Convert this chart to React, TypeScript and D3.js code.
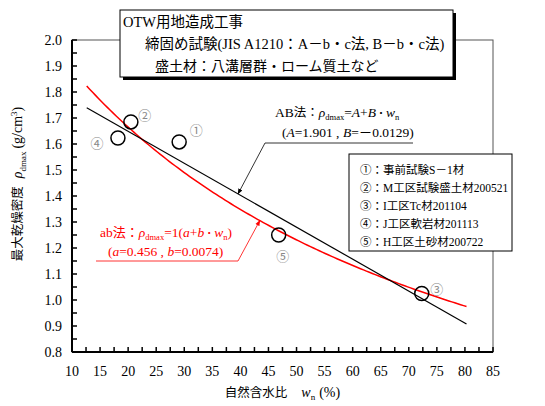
import React from "react";
import * as d3 from "d3";

const pointIds = ["①", "②", "③", "④", "⑤"];
const pointW = [28.2, 20.0, 69.4, 17.8, 45.1];
const pointRho = [1.608, 1.685, 1.025, 1.623, 1.25];
const legendLabels = [
  "①：事前試験S－1材",
  "②：M工区試験盛土材200521",
  "③：I工区Tc材201104",
  "④：J工区軟岩材201113",
  "⑤：H工区土砂材200722",
];
const xTicks = [10, 15, 20, 25, 30, 35, 40, 45, 50, 55, 60, 65, 70, 75, 80, 85];
const yTicks = [0.8, 0.9, 1.0, 1.1, 1.2, 1.3, 1.4, 1.5, 1.6, 1.7, 1.8, 1.9, 2.0];
const A = 1.901, B = -0.0129;
const a = 0.456, b = 0.0074;
const wRange = [12.5, 77];
// the data layer of the reference spans a slightly narrower w-extent than the printed axis
const dataDomain = [10, 81.5];

const W = 545, H = 406;
const L = 72, R = 493, T = 40, BOT = 352;
const serif = "'Liberation Serif', 'Times New Roman', 'Noto Sans CJK JP', serif";
const cjk = "'Noto Sans CJK JP'";

export default function App() {
  const xAxis = d3.scaleLinear().domain([10, 85]).range([L, R]);
  const x = d3.scaleLinear().domain(dataDomain).range([L, R]);
  const y = d3.scaleLinear().domain([0.8, 2.0]).range([BOT, T]);
  const ws = d3.range(wRange[0], wRange[1] + 0.01, 0.5);
  const line = d3.line<number[]>().x((d) => x(d[0])).y((d) => y(d[1]));
  const abPath = line(ws.map((w) => [w, 1 / (a + b * w)]))!;
  const ABPath = line([wRange[0], wRange[1]].map((w) => [w, A + B * w]))!;
  const xMinor = d3.range(10, 85.01, 2.5);
  const yMinor = d3.range(0.8, 2.001, 0.05);
  const labelOffsets = [
    [17, -7],
    [14, -2],
    [15, 0],
    [-21, 10],
    [4, 26],
  ];
  const wK = 38.2, wR = 41.9;
  return (
    <svg width={W} height={H} style={{ position: "absolute", left: 0, top: 0 }}>
      <defs>
        <marker id="arrK" viewBox="0 0 10 10" refX="9" refY="5" markerWidth="7" markerHeight="7" orient="auto">
          <path d="M0,1 L10,5 L0,9 Z" fill="#000" />
        </marker>
        <marker id="arrR" viewBox="0 0 10 10" refX="9" refY="5" markerWidth="7" markerHeight="7" orient="auto">
          <path d="M0,1 L10,5 L0,9 Z" fill="#ff0000" />
        </marker>
      </defs>
      <rect x={0} y={0} width={W} height={H} fill="#fff" />
      {/* frame */}
      <rect x={L} y={T} width={R - L} height={BOT - T} fill="none" stroke="#555" strokeWidth={1} />
      <line x1={L} y1={T} x2={L} y2={BOT} stroke="#000" strokeWidth={2} />
      <line x1={L} y1={BOT} x2={R} y2={BOT} stroke="#000" strokeWidth={2} />
      {xMinor.map((v, i) => (
        <line key={"xt" + i} x1={xAxis(v)} x2={xAxis(v)} y1={BOT} y2={BOT - 5} stroke="#000" strokeWidth={1.5} />
      ))}
      {yMinor.map((v, i) => (
        <line key={"yt" + i} x1={L} x2={L + 5} y1={y(v)} y2={y(v)} stroke="#000" strokeWidth={1.5} />
      ))}
      {xTicks.map((v) => (
        <text key={"xl" + v} x={xAxis(v)} y={BOT + 24} textAnchor="middle" fontFamily={serif} fontSize={14}>
          {v}
        </text>
      ))}
      {yTicks.map((v) => (
        <text key={"yl" + v} x={L - 10} y={y(v) + 5} textAnchor="end" fontFamily={serif} fontSize={14}>
          {v.toFixed(1)}
        </text>
      ))}
      {/* axis titles */}
      <text x={xAxis(47.5)} y={397} textAnchor="middle" fontFamily={serif} fontSize={14}>
        <tspan fontFamily={cjk} fontSize={12.5}>自然含水比</tspan>
        <tspan dx={14} fontStyle="italic">w</tspan>
        <tspan fontSize={9} dy={3}>n</tspan>
        <tspan dy={-3} dx={4}>(%)</tspan>
      </text>
      <text transform={`translate(22, ${(T + BOT) / 2 - 12}) rotate(-90)`} textAnchor="middle" fontFamily={serif} fontSize={14}>
        <tspan fontFamily={cjk} fontSize={12.5}>最大乾燥密度</tspan>
        <tspan dx={8} fontStyle="italic">ρ</tspan>
        <tspan fontSize={9} dy={4}>dmax</tspan>
        <tspan dy={-4} dx={3}>(g/cm</tspan>
        <tspan fontSize={9} dy={-5}>3</tspan>
        <tspan dy={5}>)</tspan>
      </text>
      {/* curves */}
      <path d={abPath} fill="none" stroke="#ff0000" strokeWidth={1.5} />
      <path d={ABPath} fill="none" stroke="#000" strokeWidth={1.2} />
      {/* points */}
      {pointW.map((w, i) => (
        <g key={"p" + i}>
          <circle cx={x(w)} cy={y(pointRho[i])} r={7} fill="none" stroke="#000" strokeWidth={1.5} />
          <text x={x(w) + labelOffsets[i][0]} y={y(pointRho[i]) + labelOffsets[i][1]} fontSize={13} fill="#888" fontFamily={cjk} textAnchor="middle">
            {pointIds[i]}
          </text>
        </g>
      ))}
      {/* AB annotation */}
      <text x={275} y={117} fontFamily={serif} fontSize={13.5}>
        AB<tspan fontFamily={cjk} fontSize={12.5}>法：</tspan>
        <tspan fontStyle="italic">ρ</tspan>
        <tspan fontSize={8.5} dy={3}>dmax</tspan>
        <tspan dy={-3}>=</tspan>
        <tspan fontStyle="italic">A</tspan>+<tspan fontStyle="italic">B</tspan>
        <tspan fontFamily={cjk} fontSize={10}>・</tspan>
        <tspan fontStyle="italic">w</tspan>
        <tspan fontSize={8.5} dy={3}>n</tspan>
      </text>
      <text x={282} y={137} fontFamily={serif} fontSize={13.5}>
        (<tspan fontStyle="italic">A</tspan>=1.901 , <tspan fontStyle="italic">B</tspan>=－0.0129)
      </text>
      <polyline points={`413,143 265,143 ${x(wK)},${y(A + B * wK)}`} fill="none" stroke="#000" strokeWidth={0.8} markerEnd="url(#arrK)" />
      {/* ab annotation */}
      <text x={100} y={237} fontFamily={serif} fontSize={13.5} fill="#ff0000">
        ab<tspan fontFamily={cjk} fontSize={13}>法：</tspan>
        <tspan fontStyle="italic">ρ</tspan>
        <tspan fontSize={8.5} dy={3}>dmax</tspan>
        <tspan dy={-3}>=1(</tspan>
        <tspan fontStyle="italic">a</tspan>+<tspan fontStyle="italic">b</tspan>
        <tspan fontFamily={cjk} fontSize={10}>・</tspan>
        <tspan fontStyle="italic">w</tspan>
        <tspan fontSize={8.5} dy={3}>n</tspan>
        <tspan dy={-3}>)</tspan>
      </text>
      <text x={108} y={256} fontFamily={serif} fontSize={13.5} fill="#ff0000">
        (<tspan fontStyle="italic">a</tspan>=0.456 , <tspan fontStyle="italic">b</tspan>=0.0074)
      </text>
      <polyline points={`96,261 238,261 ${x(wR)},${y(1 / (a + b * wR))}`} fill="none" stroke="#ff0000" strokeWidth={0.8} markerEnd="url(#arrR)" />
      {/* legend */}
      <rect x={349} y={154} width={163} height={97} fill="#fff" stroke="#000" strokeWidth={1} />
      {legendLabels.map((t, i) => (
        <text key={"lg" + i} x={360} y={174 + i * 18} fontFamily={serif} fontSize={11.5}>
          {t}
        </text>
      ))}
      {/* title box */}
      <rect x={123} y={13} width={333} height={67} fill="#000" />
      <rect x={120} y={10} width={333} height={67} fill="#fff" stroke="#000" strokeWidth={1} />
      <text x={123} y={27} fontFamily={serif} fontSize={14.5}>OTW用地造成工事</text>
      <text x={145} y={49} fontFamily={serif} fontSize={14.5}>締固め試験(JIS A1210：A－b・c法, B－b・c法)</text>
      <text x={155} y={71} fontFamily={serif} fontSize={14}>盛土材：八溝層群・ローム質土など</text>
    </svg>
  );
}
